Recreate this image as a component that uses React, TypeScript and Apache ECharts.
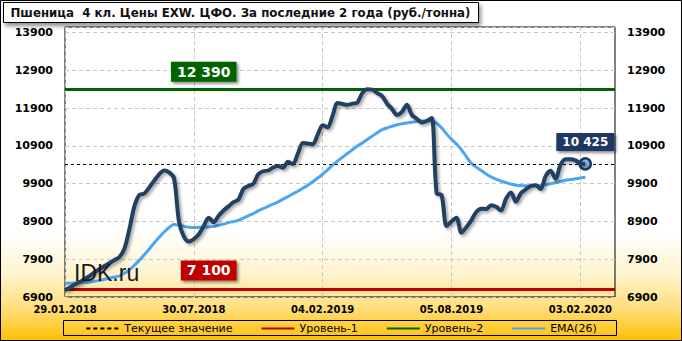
import React, { useEffect, useRef } from "react";
import * as echarts from "echarts";

const TITLE = "Пшеница  4 кл. Цены EXW. ЦФО. За последние 2 года (руб./тонна)";
const WATERMARK = "IDK.ru";

// weekly categories
const START_DATE = "2018-01-29";
const SKIPPED_WEEKS = ["2018-12-31"];
const CATEGORY_COUNT = 112;
const LABEL_EVERY = 26;

const PRICE = [
  7080, 7150, 7230, 7300, 7380, 7460, 7560, 7640, 7720, 7800,
  7880, 7960, 8180, 8700, 9300, 9600, 9640, 9800, 9980, 10150,
  10250, 10200, 10050, 8900, 8500, 8370, 8430, 8560, 8780, 9000,
  8880, 9050, 9190, 9300, 9410, 9480, 9760, 9840, 9900, 10150,
  10230, 10250, 10330, 10370, 10320, 10480, 10420, 10700, 10980, 10960,
  10945, 11200, 11450, 11390, 11700, 12040, 12010, 11990, 12020, 12050,
  12300, 12400, 12390, 12300, 12220, 12020, 11880, 11720, 11800, 11990,
  11720, 11620, 11520, 11560, 11640, 9650, 9600, 8780, 8900, 9000,
  8600, 8750, 8930, 9150, 9240, 9230, 9330, 9290, 9190, 9500,
  9670, 9420, 9650, 9750, 9840, 9860, 9760, 10100, 10240, 10030,
  10400, 10550, 10550, 10520, 10440, 10425,
];

const EMA26 = [
  7260, 7265, 7270, 7280, 7290, 7300, 7320, 7340, 7370, 7400,
  7430, 7460, 7530, 7620, 7740, 7870, 8020, 8170, 8330, 8480,
  8620, 8740, 8820, 8800, 8770, 8750, 8740, 8745, 8750, 8755,
  8770, 8800, 8830, 8870, 8900, 8930, 8990, 9050, 9110, 9180,
  9240, 9300, 9360, 9420, 9490, 9560, 9630, 9700, 9780, 9860,
  9950, 10050, 10150, 10270, 10390, 10500, 10600, 10700, 10800, 10900,
  10980, 11070, 11160, 11250, 11330, 11380, 11420, 11460, 11490, 11510,
  11530, 11550, 11560, 11565, 11560, 11500, 11380, 11220, 11080, 10950,
  10800, 10620, 10440, 10340, 10250, 10160, 10080, 10020, 9970, 9930,
  9890, 9860, 9850, 9845, 9845, 9850, 9860, 9880, 9900, 9930,
  9960, 9990, 10010, 10030, 10050, 10070,
];

const CURRENT = 10425;
const LEVEL_1 = 7100;
const LEVEL_2 = 12390;
const LEVEL_LABEL_INDEX = 29;

const Y_MIN = 6900;
const Y_MAX = 14050;
const Y_STEP = 1000;
const Y_TICK_MAX = 13900;

const NAMES = {
  price: "Цена",
  current: "Текущее значение",
  level1: "Уровень-1",
  level2: "Уровень-2",
  ema: "EMA(26)",
};

const COLORS = {
  price: "#243F60",
  ema: "#4AA5F3",
  level1: "#C00000",
  level2: "#006400",
  current: "#000000",
  currentBox: "#1F3864",
  dotFill: "#7FC0E0",
};

const FONT = "DejaVu Sans";

function pad(n: number) {
  return n < 10 ? "0" + n : String(n);
}

function buildCategories(): string[] {
  const out: string[] = [];
  const d = new Date(START_DATE + "T00:00:00Z");
  while (out.length < CATEGORY_COUNT) {
    const iso = d.toISOString().slice(0, 10);
    if (SKIPPED_WEEKS.indexOf(iso) < 0) {
      out.push(pad(d.getUTCDate()) + "." + pad(d.getUTCMonth() + 1) + "." + d.getUTCFullYear());
    }
    d.setUTCDate(d.getUTCDate() + 7);
  }
  return out;
}

const fmtNum = (v: number) => {
  const s = String(Math.round(v));
  return s.length > 3 ? s.slice(0, s.length - 3) + " " + s.slice(s.length - 3) : s;
};

// values are drawn relative to the axis floor so ticks fall on 6900, 7900, ...
const toAxis = (v: number) => v - Y_MIN;

export default function App() {
  const ref = useRef<HTMLDivElement>(null);

  useEffect(() => {
    if (!ref.current) return;
    const chart = echarts.init(ref.current, undefined, { renderer: "svg" });
    const categories = buildCategories();
    const lastIdx = PRICE.length - 1;

    const yAxisCommon = {
      type: "value",
      min: 0,
      max: Y_MAX - Y_MIN,
      interval: Y_STEP,
      axisLine: { show: false },
      axisTick: { show: false },
      axisLabel: {
        fontFamily: FONT,
        fontWeight: "bold",
        fontSize: 11,
        color: "#000",
        margin: 12,
        formatter: (v: number) => (v + Y_MIN <= Y_TICK_MAX ? String(v + Y_MIN) : ""),
      },
    };

    const boxLabel = (bg: string, size: number, pad: number[], offsetY: number) => ({
      show: true,
      position: "inside",
      offset: [0, offsetY],
      color: "#fff",
      fontFamily: FONT,
      fontWeight: "bold",
      fontSize: size,
      backgroundColor: bg,
      padding: pad,
      shadowColor: "rgba(0,0,0,0.45)",
      shadowBlur: 3,
      shadowOffsetX: 2,
      shadowOffsetY: 2,
    });

    const option: any = {
      animation: false,
      backgroundColor: {
        type: "linear",
        x: 0,
        y: 0,
        x2: 0,
        y2: 1,
        colorStops: [
          { offset: 0, color: "#FFFFFF" },
          { offset: 0.68, color: "#FFFFFF" },
          { offset: 0.8, color: "#FFF4D0" },
          { offset: 0.9, color: "#FFDF80" },
          { offset: 1, color: "#FFC000" },
        ],
      },
      grid: {
        left: 65,
        right: 67,
        top: 27,
        bottom: 44,
        show: true,
        borderColor: "#000",
        borderWidth: 1,
        backgroundColor: "transparent",
      },
      legend: {
        data: [NAMES.current, NAMES.level1, NAMES.level2, NAMES.ema],
        left: "center",
        top: 323,
        padding: [0, 5],
        itemWidth: 33,
        itemHeight: 10,
        itemGap: 28,
        itemStyle: { opacity: 0 },
        textStyle: { fontFamily: FONT, fontSize: 11, color: "#000" },
      },
      xAxis: {
        type: "category",
        data: categories,
        boundaryGap: false,
        axisLine: { show: false },
        axisTick: { show: false },
        axisLabel: {
          interval: LABEL_EVERY - 1,
          fontFamily: FONT,
          fontWeight: "bold",
          fontSize: 10,
          color: "#000",
          margin: 7,
          hideOverlap: false,
        },
        splitLine: {
          show: true,
          interval: LABEL_EVERY - 1,
          lineStyle: { color: "#C8C8C8", type: [4, 3], width: 1 },
        },
      },
      yAxis: [
        {
          ...yAxisCommon,
          position: "left",
          splitLine: { show: true, lineStyle: { color: "#C8C8C8", type: [4, 3], width: 1 } },
        },
        { ...yAxisCommon, position: "right", splitLine: { show: false } },
      ],
      series: [
        {
          name: NAMES.level1,
          type: "line",
          data: [],
          symbol: "none",
          z: 3,
          lineStyle: { color: COLORS.level1, width: 3 },
          itemStyle: { color: COLORS.level1 },
          markLine: {
            silent: true,
            symbol: "none",
            label: { show: false },
            lineStyle: { color: COLORS.level1, width: 3, type: "solid" },
            data: [{ yAxis: toAxis(LEVEL_1) }],
          },
          markPoint: {
            silent: true,
            symbol: "rect",
            symbolSize: 1,
            itemStyle: { color: "rgba(0,0,0,0)" },
            label: { ...boxLabel(COLORS.level1, 14, [3, 6, 3, 6], -19), formatter: () => fmtNum(LEVEL_1) },
            data: [{ coord: [LEVEL_LABEL_INDEX, toAxis(LEVEL_1)] }],
          },
        },
        {
          name: NAMES.level2,
          type: "line",
          data: [],
          symbol: "none",
          z: 3,
          lineStyle: { color: COLORS.level2, width: 3 },
          itemStyle: { color: COLORS.level2 },
          markLine: {
            silent: true,
            symbol: "none",
            label: { show: false },
            lineStyle: { color: COLORS.level2, width: 3, type: "solid" },
            data: [{ yAxis: toAxis(LEVEL_2) }],
          },
          markPoint: {
            silent: true,
            symbol: "rect",
            symbolSize: 1,
            itemStyle: { color: "rgba(0,0,0,0)" },
            label: { ...boxLabel(COLORS.level2, 14, [3, 6, 3, 6], -18), formatter: () => fmtNum(LEVEL_2) },
            data: [{ coord: [LEVEL_LABEL_INDEX - 1, toAxis(LEVEL_2)] }],
          },
        },
        {
          name: NAMES.ema,
          type: "line",
          data: EMA26.map(toAxis),
          symbol: "none",
          smooth: 0.4,
          z: 4,
          lineStyle: { color: COLORS.ema, width: 3 },
          itemStyle: { color: COLORS.ema },
        },
        {
          name: NAMES.price,
          type: "line",
          data: PRICE.map(toAxis),
          symbol: "none",
          smooth: 0.3,
          z: 5,
          lineStyle: {
            color: COLORS.price,
            width: 4,
            shadowColor: "rgba(0,0,0,0.35)",
            shadowBlur: 3,
            shadowOffsetX: 2,
            shadowOffsetY: 2,
          },
          itemStyle: { color: COLORS.price },
          markPoint: {
            silent: true,
            symbol: "circle",
            symbolSize: 11,
            itemStyle: { color: COLORS.dotFill, borderColor: COLORS.currentBox, borderWidth: 2.5 },
            label: { ...boxLabel(COLORS.currentBox, 12, [3, 6, 3, 6], -22), formatter: () => fmtNum(CURRENT) },
            data: [{ coord: [lastIdx, toAxis(PRICE[lastIdx])] }],
          },
        },
        {
          name: NAMES.current,
          type: "line",
          data: [],
          symbol: "none",
          z: 6,
          lineStyle: { color: COLORS.current, width: 1.2, type: [4, 3] },
          itemStyle: { color: COLORS.current },
          markLine: {
            silent: true,
            symbol: "none",
            label: { show: false },
            lineStyle: { color: COLORS.current, width: 1, type: [3, 3] },
            data: [{ yAxis: toAxis(CURRENT) }],
          },
        },
      ],
      graphic: [
        {
          type: "rect",
          shape: { x: 0.5, y: 0.5, width: 681, height: 340 },
          style: { fill: "none", stroke: "#000", lineWidth: 1 },
          silent: true,
          z: 100,
        },
        {
          type: "rect",
          shape: { x: 63.5, y: 320.5, width: 553, height: 15 },
          style: { fill: "none", stroke: "#000", lineWidth: 1 },
          silent: true,
        },
        {
          type: "group",
          left: 3,
          top: 2,
          children: [
            {
              type: "rect",
              shape: { x: 0, y: 0, width: 475, height: 20 },
              style: {
                fill: "#fff",
                stroke: "#000",
                lineWidth: 1,
                shadowColor: "rgba(0,0,0,0.45)",
                shadowBlur: 4,
                shadowOffsetX: 2,
                shadowOffsetY: 3,
              },
            },
            {
              type: "text",
              x: 7,
              y: 10.5,
              style: {
                text: TITLE,
                fill: "#111",
                font: `bold 11.8px "${FONT}"`,
                verticalAlign: "middle",
              },
            },
          ],
        },
        {
          type: "text",
          left: 74,
          top: 261,
          z: 10,
          style: {
            text: WATERMARK,
            fill: "#1a1a1a",
            font: `normal 23px "Liberation Sans"`,
          },
        },
      ],
    };

    chart.setOption(option);
    return () => chart.dispose();
  }, []);

  return (
    <div
      ref={ref}
      style={{ position: "fixed", left: 0, top: 0, width: 682, height: 341 }}
    />
  );
}
